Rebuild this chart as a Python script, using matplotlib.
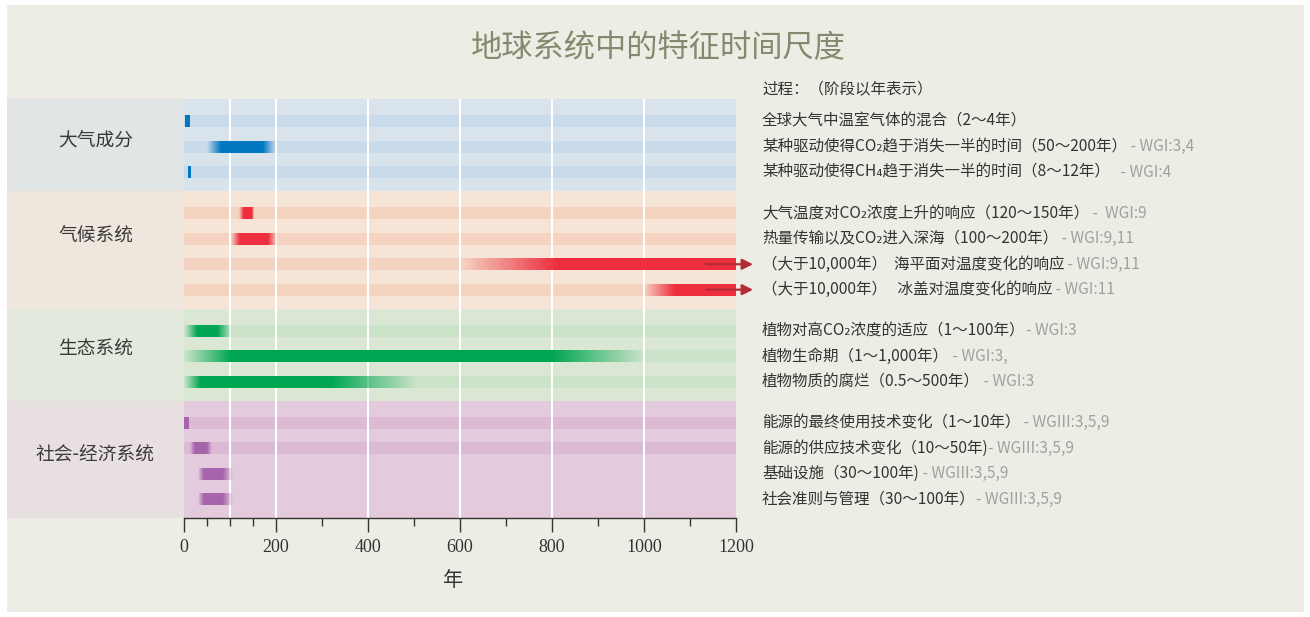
import numpy as np
import matplotlib
matplotlib.use("Agg")
import matplotlib.pyplot as plt
from matplotlib.patches import Rectangle
from matplotlib.colors import to_rgb
from matplotlib.transforms import blended_transform_factory

plt.rcParams['font.family'] = ['Noto Sans CJK SC', 'DejaVu Sans']

# groups of processes
groups = ['大气成分', '气候系统', '生态系统', '社会-经济系统']

# one entry per row: group index, fade start, solid start, solid end, fade end (years)
row_group = [0, 0, 0, 1, 1, 1, 1, 2, 2, 2, 3, 3, 3, 3]
fade_lo = [2, 50, 9, 120, 103, 603, 1000, 2, 0, 0, 0, 12, 31, 31]
solid_lo = [2, 80, 9, 130, 122, 810, 1067, 28, 100, 35, 0, 22, 43, 43]
solid_hi = [12, 170, 15, 148, 182, 1200, 1200, 71, 802, 320, 10, 48, 84, 84]
fade_hi = [12, 198, 15, 152, 201, 1200, 1200, 102, 998, 506, 10, 59, 106, 106]
beyond = [False, False, False, False, False, True, True, False, False, False, False, False, False, False]
has_stripe = [True] * 12 + [False, False]

labels = [
    '全球大气中温室气体的混合（2～4年）',
    '某种驱动使得CO₂趋于消失一半的时间（50～200年）',
    '某种驱动使得CH₄趋于消失一半的时间（8～12年）',
    '大气温度对CO₂浓度上升的响应（120～150年）',
    '热量传输以及CO₂进入深海（100～200年）',
    '（大于10,000年）  海平面对温度变化的响应',
    '（大于10,000年）   冰盖对温度变化的响应',
    '植物对高CO₂浓度的适应（1～100年）',
    '植物生命期（1～1,000年）',
    '植物物质的腐烂（0.5～500年）',
    '能源的最终使用技术变化（1～10年）',
    '能源的供应技术变化（10～50年)',
    '基础设施（30～100年)',
    '社会准则与管理（30～100年）',
]
refs = ['', ' - WGI:3,4', '   - WGI:4', ' -  WGI:9', ' - WGI:9,11', ' - WGI:9,11', ' - WGI:11',
        '- WGI:3', ' - WGI:3,', ' - WGI:3',
        ' - WGIII:3,5,9', '- WGIII:3,5,9', ' - WGIII:3,5,9', '- WGIII:3,5,9']

# styles
bar_colors = ['#0077c0', '#ee2e3f', '#00a651', '#a764ac']
band_colors = ['#d9e3ec', '#f6e4d7', '#d9e7d4', '#e3cbdd']
stripe_colors = ['#c9daeb', '#f5d3c1', '#cbe3c9', '#dcbad4']
left_colors = ['#e2e5e5', '#efe7de', '#e3e9dc', '#e8dfe1']
label_shift = [-0.18, -0.58, -0.22, -0.22]
arrow_color = '#b22d35'

XMAX = 1200
pad_top, pad_bot = 0.88, 0.74
bar_h = 0.47

# row positions (top-down)
row_y = []
group_top = []
group_bot = []
y = 0.0
for g in range(len(groups)):
    n = row_group.count(g)
    group_top.append(y)
    y += pad_top
    for i in range(n):
        row_y.append(y + i)
    y += (n - 1) + pad_bot
    group_bot.append(y)
YMAX = y

W, H = 1310, 617
fig = plt.figure(figsize=(W / 100, H / 100), dpi=100)
fig.patch.set_facecolor('white')
fig.patches.append(Rectangle((7 / W, 5 / H), (1304 - 7) / W, (612 - 5) / H,
                             transform=fig.transFigure, facecolor='#eeede5',
                             edgecolor='none', zorder=-10))

ax = fig.add_axes([184 / W, 1 - 518 / H, 552 / W, 419 / H])
axl = fig.add_axes([7 / W, 1 - 518 / H, 177 / W, 419 / H], sharey=ax)
ax.set_facecolor('none')
axl.set_facecolor('none')

for g in range(len(groups)):
    ax.axhspan(group_top[g], group_bot[g], color=band_colors[g], lw=0, zorder=0)
    axl.axhspan(group_top[g], group_bot[g], color=left_colors[g], lw=0, zorder=0)
    mid = (group_top[g] + group_bot[g]) / 2 + label_shift[g]
    axl.text(0.5, mid, groups[g], transform=blended_transform_factory(axl.transAxes, axl.transData),
             ha='center', va='center', fontsize=13.5, color='#3a3a3a')

for i, yy in enumerate(row_y):
    g = row_group[i]
    if has_stripe[i]:
        ax.axhspan(yy - bar_h / 2, yy + bar_h / 2, color=stripe_colors[g], lw=0, zorder=1)

for gx in [100, 200, 400, 600, 800, 1000]:
    ax.axvline(gx, color='white', lw=1.5, zorder=2)

# gradient bars
for i, yy in enumerate(row_y):
    g = row_group[i]
    f0, s0, s1, f1 = fade_lo[i], solid_lo[i], solid_hi[i], fade_hi[i]
    xs = np.linspace(f0, f1, 300)
    up = (xs - f0) / (s0 - f0) if s0 > f0 else np.ones_like(xs)
    down = (f1 - xs) / (f1 - s1) if f1 > s1 else np.ones_like(xs)
    alpha = np.clip(np.minimum(up, down), 0, 1)
    img = np.zeros((1, len(xs), 4))
    img[0, :, :3] = to_rgb(bar_colors[g])
    img[0, :, 3] = alpha
    ax.imshow(img, extent=(f0, f1, yy + bar_h / 2, yy - bar_h / 2), aspect='auto',
              interpolation='bilinear', zorder=3)
    if beyond[i]:
        ax.annotate('', xy=(XMAX + 37, yy), xytext=(XMAX - 65, yy),
                    arrowprops=dict(arrowstyle='-|>', color=arrow_color, lw=1.6,
                                    mutation_scale=16, shrinkA=0, shrinkB=0),
                    annotation_clip=False, zorder=5)

ax.set_xlim(0, XMAX)
ax.set_ylim(YMAX, 0)

ax.set_xticks(range(0, 1201, 200))
ax.set_xticks([50, 100, 150, 300, 500, 700, 900, 1100], minor=True)
ax.tick_params(axis='x', which='major', length=10, width=1, color='#333333', pad=5,
               labelsize=13, labelcolor='#333333')
ax.tick_params(axis='x', which='minor', length=6, width=1, color='#333333')
for lab in ax.get_xticklabels():
    lab.set_family('Liberation Serif')
ax.set_yticks([])
for s in ['top', 'right', 'left']:
    ax.spines[s].set_visible(False)
ax.spines['bottom'].set_color('#333333')
ax.spines['bottom'].set_linewidth(1)
ax.spines['bottom'].set_zorder(6)
axl.axis('off')

# titles
fig.text(658 / W, 1 - 48 / H, '地球系统中的特征时间尺度', ha='center', va='center',
         fontsize=22.5, color='#858a6e')
fig.text(453 / W, 1 - 580 / H, '年', ha='center', va='center', fontsize=14.5, color='#333333')

# right-hand labels
tr = blended_transform_factory(fig.transFigure, ax.transData)
fig.text(762 / W, -0.36, '过程：（阶段以年表示）', transform=tr, ha='left', va='center',
         fontsize=11.2, color='#333333')
for i, yy in enumerate(row_y):
    t = ax.text(762 / W, yy, labels[i], transform=tr, ha='left', va='center',
                fontsize=11.2, color='#333333', clip_on=False)
    if refs[i]:
        ax.annotate(refs[i], xy=(1, 0.5), xycoords=t, ha='left', va='center',
                    fontsize=11.2, color='#a0a0a0', annotation_clip=False)

fig.savefig('out.png', dpi=100, facecolor=fig.get_facecolor())
